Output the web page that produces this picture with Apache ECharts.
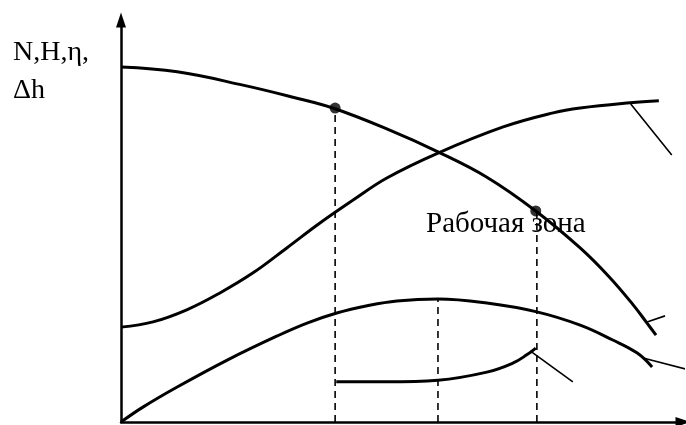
<!DOCTYPE html>
<html>
<head>
<meta charset="utf-8">
<script src="https://cdn.jsdelivr.net/npm/echarts@6/dist/echarts.min.js"></script>
<style>
  html, body { margin: 0; padding: 0; background: #fff; }
  #chart { width: 686px; height: 425px; }
</style>
</head>
<body>
<div id="chart"></div>
<script>
// Pump characteristics versus flow Q (relative units 0..100)
const headCurve  = [[0,88.3],[10,87.1],[21.7,83.8],[30.6,80.8],[37.7,78.1],[47.3,72.9],[56.4,67.2],[65.1,60.9],[73.8,52.5],[81.7,43.3],[86.8,36.2],[91.1,29.2],[93.6,24.6],[95.2,21.6]];
const powerCurve = [[0,23.6],[5.7,24.9],[11.7,27.9],[17.6,32.1],[23.5,37.1],[29.5,43.3],[35.4,49.5],[41.3,55.2],[47.3,60.7],[56.4,66.9],[68.0,73.4],[76.9,76.9],[81.7,78.1],[90.6,79.4],[95.7,79.9]];
const effCurve   = [[0,0],[3.9,3.7],[10,8.7],[18.9,15.4],[27.8,21.4],[33.1,24.6],[38.4,27.1],[43.8,28.9],[49.1,30.1],[56.4,30.6],[65.1,29.6],[74.0,27.4],[81.7,24.1],[87.5,20.4],[91.8,17.2],[94.5,13.7]];
const npshCurve  = [[38.3,10.0],[47.3,10.0],[56.4,10.4],[65.1,12.4],[69.8,14.7],[72.2,16.7],[73.8,18.4]];

// Working zone limits on the head curve and the best-efficiency flow
const zonePoints = [[38.1,78.1],[73.8,52.5]];
const dropLines = [
  [[38.1,0],[38.1,78.1]],
  [[56.4,0],[56.4,30.6]],
  [[74.0,0],[74.0,52.5]]
];

// Short callout strokes attached to each curve
const callouts = [
  [[90.7,79.1],[98.0,66.4]],
  [[93.6,24.9],[96.8,26.4]],
  [[92.9,15.9],[100.4,13.2]],
  [[72.8,17.7],[80.4,10.0]]
];

const axisTitle = ['N,H,η,', 'Δh'];
const zoneLabel = 'Рабочая зона';

const chart = echarts.init(document.getElementById('chart'), null, { renderer: 'canvas' });

const curveStyle = { color: '#000', width: 3 };
const series = [];

[headCurve, powerCurve, effCurve, npshCurve].forEach(function (d) {
  series.push({
    type: 'line', data: d, smooth: 0.4, symbol: 'none',
    lineStyle: curveStyle, clip: false, z: 3
  });
});

dropLines.forEach(function (d) {
  series.push({
    type: 'line', data: d, symbol: 'none',
    lineStyle: { color: '#000', width: 1.6, type: [7, 5] }, z: 2
  });
});

callouts.forEach(function (d) {
  series.push({
    type: 'line', data: d, symbol: 'none', clip: false,
    lineStyle: { color: '#000', width: 1.6 }, z: 2
  });
});

series.push({
  type: 'scatter', data: zonePoints, symbol: 'circle', symbolSize: 11,
  itemStyle: { color: '#000' }, z: 5
});

const arrowHead = 'path://M5,0L10,15L0,15Z';

chart.setOption({
  animation: false,
  backgroundColor: '#fff',
  grid: { left: 121, right: 3, top: 20, bottom: 3 },
  xAxis: {
    type: 'value', min: 0, max: 100,
    axisLine: { show: true, symbol: ['none', arrowHead], symbolSize: [10, 15],
      lineStyle: { color: '#000', width: 2.5 } },
    axisTick: { show: false }, axisLabel: { show: false }, splitLine: { show: false }
  },
  yAxis: {
    type: 'value', min: 0, max: 100,
    axisLine: { show: true, symbol: ['none', arrowHead], symbolSize: [10, 15],
      lineStyle: { color: '#000', width: 2.5 } },
    axisTick: { show: false }, axisLabel: { show: false }, splitLine: { show: false }
  },
  graphic: [
    { type: 'text', left: 13, top: 39,
      style: { text: axisTitle[0], font: '28px "Liberation Serif"', fill: '#000' } },
    { type: 'text', left: 13, top: 77,
      style: { text: axisTitle[1], font: '28px "Liberation Serif"', fill: '#000' } },
    { type: 'text', left: 426, top: 210, z: 1,
      style: { text: zoneLabel, font: '29px "Liberation Serif"', fill: '#000' } }
  ],
  series: series
});
</script>
</body>
</html>
